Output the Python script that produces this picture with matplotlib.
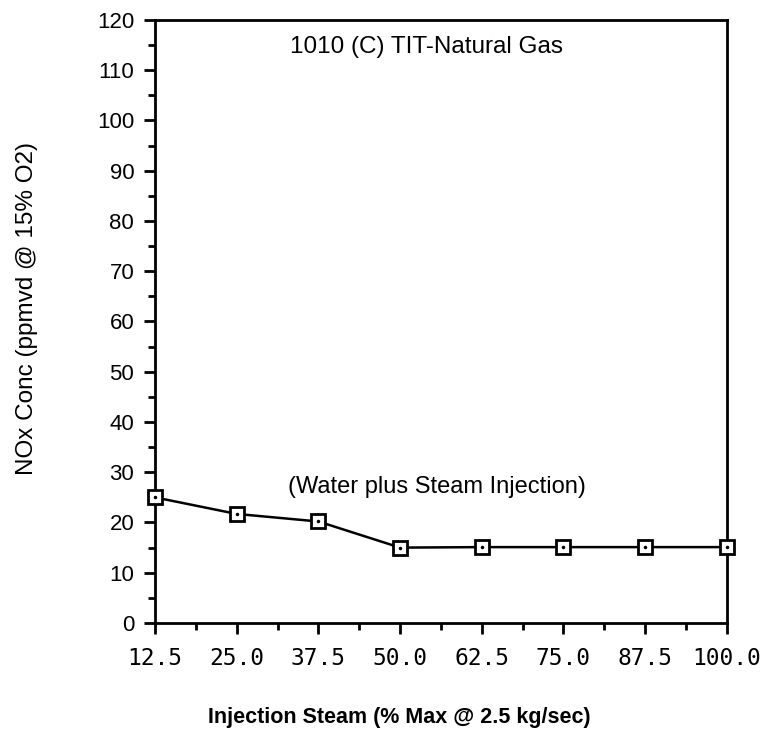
import numpy as np
import matplotlib.pyplot as plt
from matplotlib.ticker import MultipleLocator

# injection steam (% max) and NOx
steam = [12.5, 25.0, 37.5, 50.0, 62.5, 75.0, 87.5, 100.0]
nox = [25.0, 21.7, 20.2, 15.0, 15.1, 15.1, 15.1, 15.1]
xtick_labels = ['12.5', '25.0', '37.5', '50.0', '62.5', '75.0', '87.5', '100.0']

plt.rcParams['font.family'] = ['Liberation Sans', 'DejaVu Sans']

fig = plt.figure(figsize=(7.7, 7.35), dpi=100)
ax = fig.add_axes([0.2013, 0.1524, 0.7427, 0.8204])

ax.plot(steam, nox, color='black', lw=1.8, marker='s', ms=9.5, mfc='white',
        mec='black', mew=2, clip_on=False, zorder=3)
ax.plot(steam, nox, ls='none', marker='.', ms=3, color='black', clip_on=False, zorder=4)

ax.set_xlim(12.5, 100)
ax.set_ylim(0, 120)
ax.set_xticks(steam)
ax.set_xticklabels(xtick_labels, family='DejaVu Sans Mono', fontsize=16.5)
ax.xaxis.set_minor_locator(MultipleLocator(6.25))
ax.yaxis.set_major_locator(MultipleLocator(10))
ax.yaxis.set_minor_locator(MultipleLocator(5))

for s in ax.spines.values():
    s.set_linewidth(2)
ax.tick_params(which='major', length=8, width=2)
ax.tick_params(which='minor', length=5, width=2)
ax.tick_params(axis='y', labelsize=16, pad=7)
ax.tick_params(axis='x', pad=9)

ax.text(0.474, 0.955, '1010 (C) TIT-Natural Gas', transform=ax.transAxes,
        ha='center', va='center', fontsize=17.5)
ax.text(0.493, 0.2255, '(Water plus Steam Injection)', transform=ax.transAxes,
        ha='center', va='center', fontsize=17)

fig.text(27 / 770, 1 - 308 / 735, 'NOx Conc (ppmvd @ 15% O2)', rotation=90,
         ha='center', va='center', fontsize=17.5)
fig.text(399 / 770, 1 - 717 / 735, 'Injection Steam (% Max @ 2.5 kg/sec)',
         ha='center', va='center', fontsize=15.5, fontweight='bold')

fig.savefig('out.png', dpi=100)
